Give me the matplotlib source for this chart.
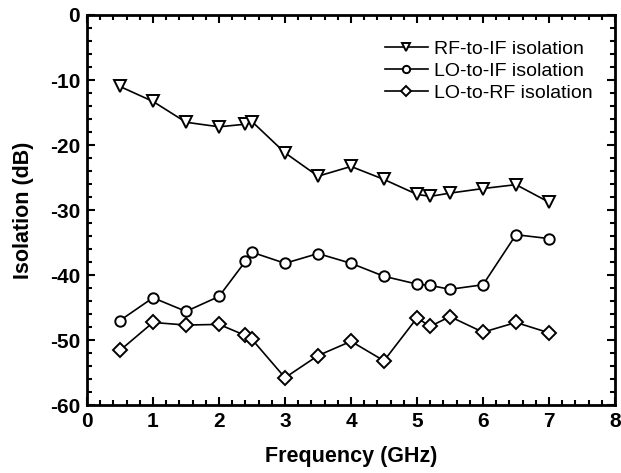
import numpy as np
import matplotlib.pyplot as plt
from matplotlib.ticker import MultipleLocator

plt.rcParams['font.family'] = ['Liberation Sans', 'DejaVu Sans']
plt.rcParams['axes.unicode_minus'] = False

# frequency points (GHz)
freq = [0.5, 1, 1.5, 2, 2.4, 2.5, 3, 3.5, 4, 4.5, 5, 5.2, 5.5, 6, 6.5, 7]

rf_if = [-11.0, -13.3, -16.5, -17.2, -16.8, -16.4, -21.2, -24.8,
         -23.3, -25.3, -27.6, -27.9, -27.4, -26.7, -26.1, -28.8]
lo_if = [-47.0, -43.5, -45.6, -43.3, -37.9, -36.5, -38.2, -36.7,
         -38.2, -40.2, -41.4, -41.6, -42.2, -41.5, -33.8, -34.4]
lo_rf = [-51.6, -47.3, -47.7, -47.6, -49.3, -49.9, -55.8, -52.4,
         -50.2, -53.2, -46.6, -47.9, -46.4, -48.8, -47.3, -48.9]

fig = plt.figure(figsize=(6.21, 4.73), dpi=100)
ax = fig.add_axes([87 / 621, 68 / 473, 528 / 621, 390 / 473])

style = dict(color='black', linewidth=1.2, markerfacecolor='white',
             markeredgecolor='black', markeredgewidth=1.4)
ax.plot(freq, rf_if, marker='v', markersize=8.5, label='RF-to-IF isolation', **style)
ax.plot(freq, lo_if, marker='o', markersize=7.5, label='LO-to-IF isolation', **style)
ax.plot(freq, lo_rf, marker='D', markersize=7, label='LO-to-RF isolation', **style)

ax.set_xlim(0, 8)
ax.set_ylim(-60, 0)
ax.xaxis.set_major_locator(MultipleLocator(1))
ax.xaxis.set_minor_locator(MultipleLocator(0.2))
ax.yaxis.set_major_locator(MultipleLocator(10))
ax.yaxis.set_minor_locator(MultipleLocator(2))
ax.tick_params(which='both', direction='in', top=True, right=True, width=1.5)
ax.tick_params(which='major', length=6, labelsize=15, pad=5)
ax.tick_params(which='minor', length=3.5)
for lbl in ax.get_xticklabels() + ax.get_yticklabels():
    lbl.set_fontweight('bold')
for sp in ax.spines.values():
    sp.set_linewidth(2)

ax.set_xlabel('Frequency (GHz)', fontsize=15.5, fontweight='bold', labelpad=11)
ax.set_ylabel('Isolation (dB)', fontsize=15.5, fontweight='bold', labelpad=11)

ax.legend(loc='upper right', bbox_to_anchor=(0.99, 0.98), frameon=False,
          fontsize=14, markerscale=0.7, handlelength=2.2, handletextpad=0.3,
          labelspacing=0.22)

fig.savefig('out.png', dpi=100)
